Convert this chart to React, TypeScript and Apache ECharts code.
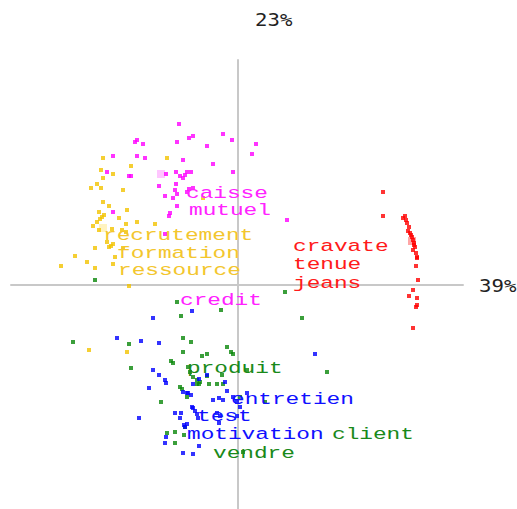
import React, { useEffect, useRef } from "react";
import * as echarts from "echarts";

// Axis inertia shares
const axisLabelX = "39%";
const axisLabelY = "23%";

// Points by group, [dim1, dim2]
const magentaPts: number[][] = [
  [-59, 161], [-101, 145], [-103, 143], [-95, 141], [-61, 143], [-49, 147], [-45, 149], [-15, 151],
  [-6, 145], [18, 141], [14, 131], [-31, 139], [-125, 129], [-101, 129], [-93, 127], [-55, 125],
  [-25, 121], [-5, 113], [-131, 113], [-109, 109], [-107, 109], [-72, 111], [-62, 113], [-58, 109],
  [-55, 107], [-53, 110], [-51, 113], [-47, 113], [-79, 99], [-62, 101], [-63, 95], [-61, 91],
  [-51, 93], [-49, 96], [-45, 97], [-73, 89], [-65, 87], [-61, 79], [-68, 72], [-69, 69],
  [-125, 73], [-73, 51], [49, 65],
];
const yellowPts: number[][] = [
  [-135, 127], [-137, 115], [-125, 111], [-107, 119], [-135, 107], [-141, 101], [-147, 97], [-137, 97],
  [-115, 95], [-135, 83], [-129, 79], [-111, 75], [-139, 73], [-136, 68], [-138, 66], [-141, 63],
  [-134, 70], [-119, 67], [-145, 59], [-139, 55], [-126, 56], [-112, 61], [-101, 63], [-83, 61],
  [-116, 55], [-112, 53], [-131, 43], [-127, 39], [-129, 38], [-125, 41], [-143, 37], [-115, 37],
  [-163, 29], [-123, 28], [-151, 23], [-177, 19], [-143, 17], [-125, 21], [-109, -1], [-71, 127],
  [-35, 87], [-149, -65], [-111, -67],
];
const redPts: number[][] = [
  [145, 93], [145, 69], [167, 69], [165, 67], [168, 65], [169, 62], [171, 58], [170, 54],
  [172, 52], [173, 50], [174, 48], [175, 45], [176, 42], [176, 40], [177, 38], [175, 35],
  [178, 32], [179, 28], [179, 27], [178, 19], [180, 5], [175, -5], [171, -11], [179, -13],
  [179, -20], [178, -22], [175, -43],
];
const greenPts: number[][] = [
  [47, -7], [64, -33], [-61, -17], [-57, -31], [-17, -25], [-165, -57], [-109, -59], [-55, -53],
  [-47, -57], [-11, -62], [-7, -67], [-5, -69], [-55, -67], [-36, -71], [-31, -69], [-67, -76],
  [-65, -78], [-107, -83], [-50, -82], [-48, -87], [-45, -92], [-41, -95], [-38, -97], [-41, -99],
  [-39, -99], [-31, -91], [-29, -99], [-21, -99], [-16, -90], [-15, -99], [9, -85], [89, -87],
  [-58, -102], [-56, -104], [-51, -112], [-77, -117], [2, -112], [27, -117], [-53, -142], [-71, -148],
  [-63, -147], [-63, -158], [-54, -150], [5, -167], [-143, 5],
];
const bluePts: number[][] = [
  [-46, -26], [-85, -33], [-121, -53], [-97, -56], [-79, -58], [77, -69], [-85, -85], [-79, -90],
  [-73, -95], [-72, -98], [-89, -103], [-39, -94], [-45, -99], [-31, -90], [-13, -97], [-11, -106],
  [-55, -107], [-51, -108], [-47, -110], [-50, -108], [-25, -115], [-19, -113], [-15, -115], [-5, -112],
  [-1, -117], [2, -122], [9, -108], [-46, -122], [-45, -123], [-43, -126], [-41, -129], [-40, -133],
  [-63, -128], [-57, -128], [-58, -133], [-99, -133], [-21, -128], [-18, -131], [-19, -138], [-1, -131],
  [-54, -140], [-51, -139], [-53, -142], [-73, -158], [-39, -161], [-55, -168], [-45, -169], [-72, -152],
];
// Group centroids (lighter squares)
const centroidPts: number[][] = [[-77, 111], [-135, 57], [174, 44]];
const centroidColors = ["#ffb8ff", "#fff0b0", "#ff9090"];

// Word labels
const labelNames = [
  "caisse", "mutuel", "recrutement", "formation", "ressource", "credit",
  "cravate", "tenue", "jeans", "produit", "entretien", "test", "motivation", "client", "vendre",
];
const labelX = [-52, -49, -135, -121, -120, -58, 55, 55, 55, -51, -7, -41, -51, 94, -25];
const labelY = [92, 75, 50, 32, 15, -15, 39, 21, 2, -83, -114, -131, -149, -149, -168];
const labelGroup = [0, 0, 1, 1, 1, 0, 2, 2, 2, 3, 4, 4, 4, 3, 3];

const pointColors = ["#ff00ff", "#f2c300", "#ff0000", "#0a870a", "#0000ff"];
const labelColors = ["#ff22ff", "#f3c62e", "#ff1a1a", "#1a8a1a", "#1010ff"];

export default function App() {
  const ref = useRef<HTMLDivElement>(null);
  useEffect(() => {
    document.body.style.margin = "0";
    if (!ref.current) return;
    const chart = echarts.init(ref.current, undefined, { renderer: "svg" });
    const groups = [magentaPts, yellowPts, redPts, greenPts, bluePts];
    const scatterSeries = groups.map((pts, i) => ({
      type: "scatter",
      data: pts,
      symbol: "rect",
      symbolSize: 4,
      itemStyle: { color: pointColors[i] },
      silent: true,
      z: 3,
    }));
    const centroidSeries = {
      type: "scatter",
      data: centroidPts.map((p, i) => ({ value: p, itemStyle: { color: centroidColors[i] } })),
      symbol: "rect",
      symbolSize: 8,
      silent: true,
      z: 2,
    };
    const labelSeries = {
      type: "custom",
      coordinateSystem: "cartesian2d",
      data: labelX.map((x, i) => [x, labelY[i]]),
      silent: true,
      z: 10,
      renderItem: (params: any, api: any) => {
        const i = params.dataIndex;
        const p = api.coord([labelX[i], labelY[i]]);
        return {
          type: "text",
          x: p[0],
          y: p[1],
          scaleX: 1.34,
          style: {
            text: labelNames[i],
            fill: labelColors[labelGroup[i]],
            font: '17px "Liberation Mono"',
            align: "left",
            verticalAlign: "middle",
          },
        };
      },
    };
    chart.setOption({
      animation: false,
      backgroundColor: "#ffffff",
      grid: { left: 11, right: 54, top: 60, bottom: 0 },
      xAxis: {
        type: "value",
        min: -227,
        max: 225,
        axisLine: { onZero: true, lineStyle: { color: "#c8c8c8", width: 2 } },
        axisTick: { show: false },
        axisLabel: { show: false },
        splitLine: { show: false },
      },
      yAxis: {
        type: "value",
        min: -224,
        max: 225,
        axisLine: { onZero: true, lineStyle: { color: "#c8c8c8", width: 2 } },
        axisTick: { show: false },
        axisLabel: { show: false },
        splitLine: { show: false },
      },
      graphic: [
        {
          type: "text",
          x: 255,
          y: 20,
          scaleX: 1.15,
          style: {
            text: axisLabelY,
            fill: "#222222",
            font: '18px "DejaVu Sans Mono"',
            align: "left",
            verticalAlign: "middle",
          },
        },
        {
          type: "text",
          x: 479,
          y: 286,
          scaleX: 1.15,
          style: {
            text: axisLabelX,
            fill: "#222222",
            font: '18px "DejaVu Sans Mono"',
            align: "left",
            verticalAlign: "middle",
          },
        },
      ],
      series: [centroidSeries, ...scatterSeries, labelSeries],
    });
    return () => chart.dispose();
  }, []);
  return <div ref={ref} style={{ width: 517, height: 509 }} />;
}
